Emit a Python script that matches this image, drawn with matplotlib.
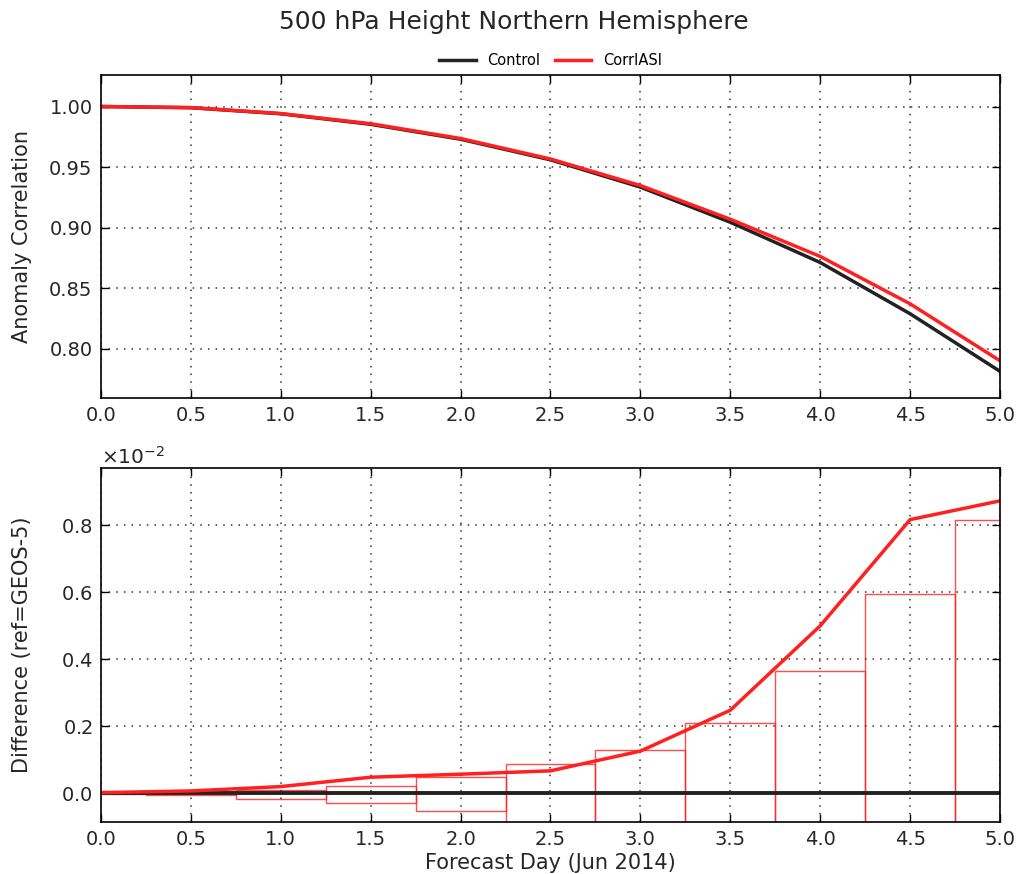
#!/usr/bin/python3
# coding: utf-8

import matplotlib
matplotlib.use("Agg")
import matplotlib.pyplot as plt
import numpy as np
from matplotlib.ticker import ScalarFormatter

days = [0.0, 0.5, 1.0, 1.5, 2.0, 2.5, 3.0, 3.5, 4.0, 4.5, 5.0]

control_ac = [1.0000, 0.9990, 0.9940, 0.9853, 0.9730, 0.9560, 0.9335, 0.9045, 0.8713, 0.8290, 0.7815]
corriasi_ac = [1.0000, 0.9991, 0.9942, 0.9858, 0.9736, 0.9567, 0.9348, 0.9070, 0.8763, 0.8372, 0.7902]

# differences vs control (ref=GEOS-5)
control_diff = [0.0] * len(days)
corriasi_diff = [0.00002, 0.00007, 0.00020, 0.00048, 0.00057, 0.00067, 0.00126, 0.00248, 0.00500, 0.00817, 0.00873]

# significance boxes
box_low = [-0.00002, -0.00004, -0.00018, -0.00028, -0.00054, -0.00100, -0.00130, -0.00211, -0.00364, -0.00595, -0.00815]
box_high = [0.00003, 0.00005, 0.00011, 0.00023, 0.00049, 0.00087, 0.00130, 0.00211, 0.00364, 0.00595, 0.00815]

black = '#222222'
red = '#ff2020'
text_col = '#262626'

fig = plt.figure(figsize=(10.28, 8.74), dpi=100)
fig.patch.set_facecolor('white')

ax1 = fig.add_axes([0.0982, 0.5446, 0.8746, 0.3696])
ax2 = fig.add_axes([0.0982, 0.0595, 0.8746, 0.4050])


def style_axis(ax):
    ax.tick_params(direction='in', top=True, right=True, labelsize=14, length=6, width=1,
                   labelcolor=text_col, pad=6)
    for s in ax.spines.values():
        s.set_linewidth(1.2)
    ax.grid(True, linestyle=(0, (1, 4)), color='#333333', linewidth=1.1)
    ax.set_xlim(0.0, 5.0)
    ax.set_xticks(np.arange(0, 5.01, 0.5))
    ax.set_xticklabels(['%.1f' % d for d in np.arange(0, 5.01, 0.5)])
    ax.yaxis.set_label_coords(-0.077, 0.5)


# top panel
ax1.plot(days, control_ac, color=black, lw=2.5, label='Control')
ax1.plot(days, corriasi_ac, color=red, lw=2.5, label='CorrIASI')
style_axis(ax1)
ax1.set_ylim(0.7595, 1.026)
ax1.set_yticks([0.80, 0.85, 0.90, 0.95, 1.00])
ax1.set_yticklabels(['0.80', '0.85', '0.90', '0.95', '1.00'])
ax1.set_ylabel('Anomaly Correlation', fontsize=15, color=text_col)
ax1.legend(loc='lower center', bbox_to_anchor=(0.5, 1.0), ncol=2, frameon=False,
           fontsize=10.5, handlelength=2.5, borderaxespad=0.1, columnspacing=1.0)

# bottom panel
ax2.bar(days, np.array(box_high) - np.array(box_low), bottom=box_low, width=0.5,
        fill=False, edgecolor=red, linewidth=1, alpha=0.8)
ax2.plot(days, control_diff, color=black, lw=2.8)
ax2.plot(days, corriasi_diff, color=red, lw=2.5)
style_axis(ax2)
ax2.set_ylim(-0.000857, 0.00971)
ax2.set_yticks([0.0, 0.002, 0.004, 0.006, 0.008])
fmt = ScalarFormatter(useMathText=True)
fmt.set_powerlimits((-2, -2))
ax2.yaxis.set_major_formatter(fmt)
ax2.yaxis.get_offset_text().set_fontsize(14.5)
ax2.yaxis.get_offset_text().set_color(text_col)
ax2.set_ylabel('Difference (ref=GEOS-5)', fontsize=15, color=text_col)
ax2.set_xlabel('Forecast Day (Jun 2014)', fontsize=15, labelpad=3, color=text_col)

fig.suptitle('500 hPa Height Northern Hemisphere', fontsize=18, y=0.988, color=text_col)

fig.savefig('out.png', dpi=100, facecolor='white')
